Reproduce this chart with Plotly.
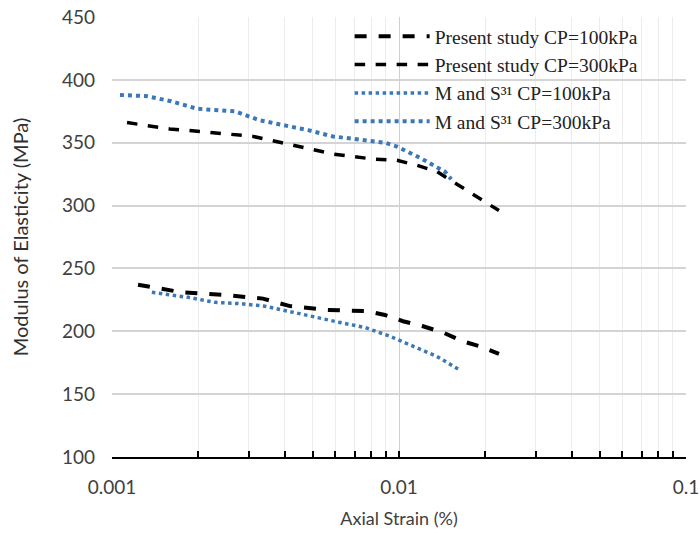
import plotly.graph_objects as go

# ---- data ----
ps100_x = [0.001232, 0.001753, 0.002437, 0.003359, 0.004169, 0.005610, 0.007737,
           0.008932, 0.01033, 0.01213, 0.01424, 0.01671, 0.01915, 0.0223]
ps100_y = [237, 231, 229, 226, 220, 217, 216, 213, 208, 204, 199, 192, 188, 182]

ps300_x = [0.001128, 0.00159, 0.00225, 0.00310, 0.00428, 0.00589, 0.00812,
           0.00984, 0.01156, 0.01357, 0.01592, 0.01871, 0.0223]
ps300_y = [366, 361, 358, 355, 348, 341, 337, 336, 332, 327, 317, 307, 296]

ms100_x = [0.001377, 0.001841, 0.002286, 0.002792, 0.003411, 0.004169, 0.005175,
           0.006223, 0.007614, 0.009311, 0.01119, 0.01355, 0.01607]
ms100_y = [231, 227, 223, 222, 220, 216, 211, 207, 203, 196, 188, 180, 170]

ms300_x = [0.001066, 0.001324, 0.001607, 0.001978, 0.002684, 0.003253, 0.003946,
           0.004821, 0.005889, 0.007311, 0.008932, 0.009839, 0.01183, 0.01445, 0.0152]
ms300_y = [388, 387, 383, 377, 375, 368, 364, 360, 355, 352, 350, 347, 338, 327, 321]

x_tickvals = [0.001, 0.01, 0.1]
x_ticktext = ["0.001", "0.01", "0.1"]
y_tickvals = [100, 150, 200, 250, 300, 350, 400, 450]

names = ["Present study CP=100kPa", "Present study CP=300kPa",
         "M and S\u00b3\u00b9 CP=100kPa", "M and S\u00b3\u00b9 CP=300kPa"]

BLUE = "#3a78b8"

fig = go.Figure()
fig.add_trace(go.Scatter(x=ps100_x, y=ps100_y, mode="lines", name=names[0],
                         line=dict(color="black", width=4, dash="dash")))
fig.add_trace(go.Scatter(x=ps300_x, y=ps300_y, mode="lines", name=names[1],
                         line=dict(color="black", width=3.5, dash="dash")))
fig.add_trace(go.Scatter(x=ms100_x, y=ms100_y, mode="lines", name=names[2],
                         line=dict(color=BLUE, width=3.5, dash="dot")))
fig.add_trace(go.Scatter(x=ms300_x, y=ms300_y, mode="lines", name=names[3],
                         line=dict(color=BLUE, width=4, dash="dot")))

fig.update_layout(
    width=700, height=537,
    margin=dict(l=112, r=14, t=17, b=80, autoexpand=False),
    paper_bgcolor="white", plot_bgcolor="white",
    font=dict(family="Lato, Open Sans, sans-serif", size=18, color="#404040"),
    showlegend=True,
    legend=dict(x=0.414, y=1.0, xanchor="left", yanchor="top",
                bgcolor="rgba(0,0,0,0)", borderwidth=0,
                font=dict(family="Liberation Serif, serif", size=19.5, color="#222222"),
                itemwidth=75, tracegroupgap=0),
)
fig.update_xaxes(
    type="log", range=[-3, -1], automargin=False,
    tickvals=x_tickvals, ticktext=x_ticktext,
    showgrid=True, gridcolor="#cfcfcf", gridwidth=1,
    showline=True, linecolor="black", linewidth=2,
    ticks="inside", ticklen=6, tickcolor="black", tickwidth=1.5,
    ticklabelstandoff=12,
    minor=dict(dtick="D1", ticks="inside", ticklen=6, tickcolor="black",
               tickwidth=1.5, showgrid=True, gridcolor="#ececec", gridwidth=1),
    zeroline=False, mirror=False,
    title=dict(text="Axial Strain (%)", font=dict(size=18, color="#404040"), standoff=16),
    tickfont=dict(size=19, color="#404040"),
)
fig.update_yaxes(
    range=[100, 450], tickvals=y_tickvals, automargin=False,
    showgrid=True, gridcolor="#d4d4d4", gridwidth=1.5,
    showline=False, ticks="", zeroline=False,
    ticklabelstandoff=16,
    title=dict(text="Modulus of Elasticity (MPa)", font=dict(size=20, color="#303030"), standoff=27),
    tickfont=dict(size=19, color="#404040"),
)

fig.write_html("out.html")
